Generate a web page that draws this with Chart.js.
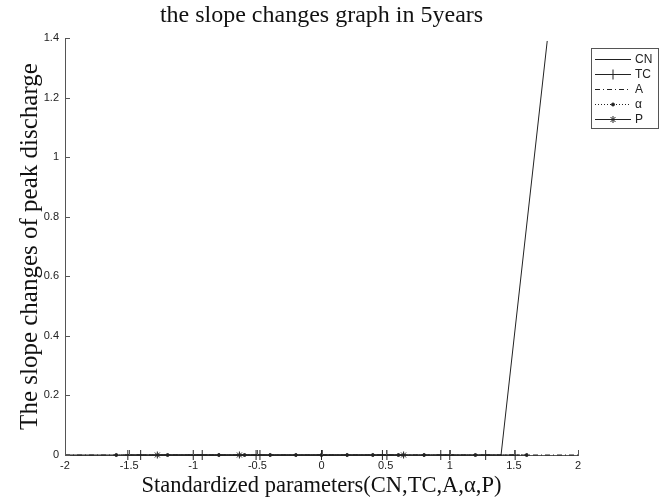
<!DOCTYPE html>
<html>
<head>
<meta charset="utf-8">
<script src="https://cdn.jsdelivr.net/npm/chart.js@4.4.1/dist/chart.umd.min.js"></script>
<style>
html, body { margin: 0; padding: 0; background: #fff; }
</style>
</head>
<body>
<canvas id="chart" width="667" height="501"></canvas>
<script>
'use strict';

var chartTitle = 'the slope changes graph in 5years';
var seriesNames = ['CN', 'TC', 'A', '\u03b1', 'P'];

var cnX = [-2, -1, 0, 1, 1.4, 1.76];
var cnY = [0, 0, 0, 0, 0, 1.39];

var tcX = [-1.51, -1.41, -1.0, -0.93, -0.51, -0.48, 0, 0.475, 0.51, 0.93, 1.0, 1.28, 1.51];
var tcY = [0, 0, 0, 0, 0, 0, 0, 0, 0, 0, 0, 0, 0];

var aX = [-2, -1, 0, 1, 2];
var aY = [0, 0, 0, 0, 0];

var alphaX = [-1.6, -1.2, -0.8, -0.6, -0.4, -0.2, 0, 0.2, 0.4, 0.6, 0.8, 1.2, 1.6];
var alphaY = [0, 0, 0, 0, 0, 0, 0, 0, 0, 0, 0, 0, 0];

var pX = [-1.28, -0.64, 0.64];
var pY = [0, 0, 0];

var xTicks = [-2, -1.5, -1, -0.5, 0, 0.5, 1, 1.5, 2];
var yTicks = [0, 0.2, 0.4, 0.6, 0.8, 1, 1.2, 1.4];

var ink = '#222';
var axisColor = '#555';
var serif = "'Liberation Serif', 'Times New Roman', serif";
var sans = "'Liberation Sans', Arial, sans-serif";

function points(xs, ys) {
  return xs.map(function(x, i) {
    return { x: x, y: ys[i] };
  });
}

var styles = [
  { dash: [], pointStyle: false, radius: 0 },
  { dash: [], pointStyle: 'cross', radius: 5 },
  { dash: [5, 3, 1, 3], pointStyle: false, radius: 0 },
  { dash: [1, 2], pointStyle: 'circle', radius: 1.5 },
  { dash: [], pointStyle: 'star', radius: 3.5 }
];
var values = [points(cnX, cnY), points(tcX, tcY), points(aX, aY), points(alphaX, alphaY), points(pX, pY)];

var datasets = seriesNames.map(function(name, i) {
  var s = styles[i];
  return {
    label: name,
    data: values[i],
    showLine: true,
    borderColor: ink,
    backgroundColor: ink,
    borderWidth: 1,
    borderDash: s.dash,
    pointStyle: s.pointStyle,
    pointRadius: s.radius,
    pointBorderWidth: 1,
    clip: false
  };
});

function plainLabel(v) {
  return String(Math.round(v * 100) / 100);
}

// title centred over the plot area, like MATLAB does
var plotTitle = {
  id: 'plotTitle',
  afterDraw: function(chart) {
    var ctx = chart.ctx;
    var a = chart.chartArea;
    ctx.save();
    ctx.fillStyle = '#111';
    ctx.font = '24px ' + serif;
    ctx.textAlign = 'center';
    ctx.textBaseline = 'middle';
    ctx.fillText(chartTitle, (a.left + a.right) / 2, 16);
    ctx.restore();
  }
};

// MATLAB style ticks pointing into the plot
var inwardTicks = {
  id: 'inwardTicks',
  afterDatasetsDraw: function(chart) {
    var ctx = chart.ctx;
    var a = chart.chartArea;
    var xs = chart.scales.x;
    var ys = chart.scales.y;
    ctx.save();
    ctx.strokeStyle = axisColor;
    ctx.lineWidth = 1;
    ctx.beginPath();
    xTicks.forEach(function(v) {
      var p = Math.round(xs.getPixelForValue(v)) + 0.5;
      ctx.moveTo(p, a.bottom);
      ctx.lineTo(p, a.bottom - 5);
    });
    yTicks.forEach(function(v) {
      var p = Math.round(ys.getPixelForValue(v)) + 0.5;
      ctx.moveTo(a.left, p);
      ctx.lineTo(a.left + 5, p);
    });
    ctx.stroke();
    ctx.restore();
  }
};

var boxLegend = {
  id: 'boxLegend',
  afterDraw: function(chart) {
    var ctx = chart.ctx;
    var a = chart.chartArea;
    var left = a.right + 13;
    var top = a.top + 10;
    var w = 67, h = 80, row = 15;
    ctx.save();
    ctx.fillStyle = '#fff';
    ctx.fillRect(left, top, w, h);
    ctx.strokeStyle = axisColor;
    ctx.lineWidth = 1;
    ctx.strokeRect(left + 0.5, top + 0.5, w, h);
    chart.data.datasets.forEach(function(ds, i) {
      var y = Math.round(top + 11 + i * row) + 0.5;
      ctx.strokeStyle = ink;
      ctx.fillStyle = ink;
      ctx.setLineDash(ds.borderDash);
      ctx.beginPath();
      ctx.moveTo(left + 4, y);
      ctx.lineTo(left + 40, y);
      ctx.stroke();
      ctx.setLineDash([]);
      if (ds.pointStyle) {
        Chart.helpers.drawPoint(ctx, {
          pointStyle: ds.pointStyle,
          radius: ds.pointRadius,
          rotation: 0,
          borderWidth: 1
        }, left + 22, y);
      }
      ctx.font = '12px ' + sans;
      ctx.textBaseline = 'middle';
      ctx.fillText(ds.label, left + 44, y);
    });
    ctx.restore();
  }
};

var chart = new Chart(document.getElementById('chart').getContext('2d'), {
  type: 'scatter',
  data: { datasets: datasets },
  plugins: [plotTitle, inwardTicks, boxLegend],
  options: {
    responsive: false,
    animation: false,
    layout: { padding: { left: 0, right: 89, top: 38, bottom: 0 } },
    plugins: {
      legend: { display: false },
      tooltip: { enabled: false },
      title: { display: false }
    },
    scales: {
      x: {
        type: 'linear',
        min: -2,
        max: 2,
        afterFit: function(scale) { scale.height = 46; },
        afterBuildTicks: function(scale) {
          scale.ticks = xTicks.map(function(v) { return { value: v }; });
        },
        grid: { display: false, tickLength: 0 },
        border: { display: true, color: axisColor, width: 1 },
        ticks: {
          color: ink,
          font: { family: sans, size: 11 },
          padding: 4,
          maxRotation: 0,
          callback: plainLabel
        },
        title: {
          display: true,
          text: 'Standardized parameters(CN,TC,A,\u03b1,P)',
          color: '#111',
          font: { family: serif, size: 22.5, weight: 'normal' },
          padding: { top: 0, bottom: 1 }
        }
      },
      y: {
        type: 'linear',
        min: 0,
        max: 1.4,
        afterFit: function(scale) { scale.width = 65; },
        afterBuildTicks: function(scale) {
          scale.ticks = yTicks.map(function(v) { return { value: v }; });
        },
        grid: { display: false, tickLength: 0 },
        border: { display: true, color: axisColor, width: 1 },
        ticks: {
          color: ink,
          font: { family: sans, size: 11 },
          padding: 6,
          callback: plainLabel
        },
        title: {
          display: true,
          text: 'The slope changes of peak discharge',
          color: '#111',
          font: { family: serif, size: 25, weight: 'normal' },
          padding: { top: 15, bottom: 0 }
        }
      }
    }
  }
});
</script>
</body>
</html>
